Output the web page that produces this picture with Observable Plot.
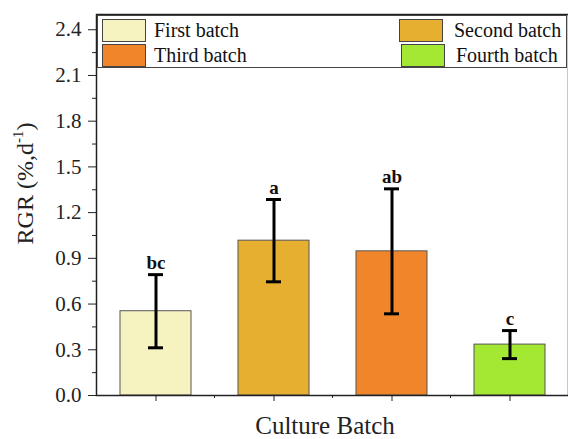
<!DOCTYPE html>
<html><head><meta charset="utf-8">
<script src="https://cdn.jsdelivr.net/npm/d3@7"></script>
<script src="https://cdn.jsdelivr.net/npm/@observablehq/plot@0.6"></script>
<style>
body{margin:0;background:#fff;}
#wrap{position:relative;width:568px;height:439px;font-family:"Liberation Serif","Times New Roman",serif;overflow:hidden;}
.legend{position:absolute;left:97px;top:15px;width:470px;height:53px;border:1px solid #444;box-sizing:border-box;background:#fff;}
.sw{position:absolute;width:44px;height:23px;border:1px solid #444;box-sizing:border-box;}
.lab{position:absolute;font-size:20px;line-height:23px;color:#111;white-space:nowrap;}
</style></head><body><div id="wrap"></div>
<script>
const batches = ["First batch", "Second batch", "Third batch", "Fourth batch"];
const means = [0.553, 1.016, 0.946, 0.334];
const errs = [0.24, 0.27, 0.41, 0.092];
const letters = ["bc", "a", "ab", "c"];
const colors = ["#F7F3C1", "#E6AF30", "#F0852A", "#A4E834"];
const yTicks = [0, 0.3, 0.6, 0.9, 1.2, 1.5, 1.8, 2.1, 2.4];
const yMinor = [0.15, 0.45, 0.75, 1.05, 1.35, 1.65, 1.95, 2.25];
const xTitle = "Culture Batch";
const serif = "'Liberation Serif', 'Times New Roman', serif";

const data = batches.map((b, i) => ({
  batch: b, mean: means[i], lo: means[i] - errs[i], hi: means[i] + errs[i], letter: letters[i]
}));

const chart = Plot.plot({
  width: 568, height: 439,
  marginLeft: 96, marginRight: 0, marginTop: 14, marginBottom: 44,
  style: {fontSize: "20px", color: "#222", background: "#fff"},
  x: {domain: batches, paddingInner: 0.4, paddingOuter: 0.2},
  y: {domain: [0, 2.5]},
  color: {domain: batches, range: colors},
  marks: [
    Plot.barY(data, {x: "batch", y: "mean", fill: "batch", stroke: "#555", strokeWidth: 1}),
    Plot.ruleX(data, {x: "batch", y1: "lo", y2: "hi", stroke: "#000", strokeWidth: 3}),
    Plot.tickY(data, {x: "batch", y: "lo", stroke: "#000", strokeWidth: 3, insetLeft: 28, insetRight: 28}),
    Plot.tickY(data, {x: "batch", y: "hi", stroke: "#000", strokeWidth: 3, insetLeft: 28, insetRight: 28}),
    Plot.text(data, {x: "batch", y: "hi", text: "letter", lineAnchor: "bottom", dy: -6, fontWeight: "bold", fontSize: 19, fill: "#111", fontFamily: serif}),
    Plot.axisY({ticks: yTicks, tickFormat: d3.format(".1f"), tickSize: 8, tickPadding: 7, label: null, fontSize: 21, stroke: "#222", fill: "#222", fontFamily: serif, fontVariant: "normal"}),
    Plot.axisY({ticks: yMinor, tickSize: 4, tickFormat: () => "", label: null, stroke: "#222"}),
    Plot.axisX({tickSize: 6, tickFormat: () => "", label: null, stroke: "#222"}),
    Plot.frame({stroke: "#222", strokeWidth: 1.5})
  ]
});

const wrap = document.getElementById("wrap");
wrap.appendChild(chart);

const svg = d3.select(chart);
svg.style("font-family", serif);
const xs = chart.scale("x");
const ys = chart.scale("y");
const y0 = ys.apply(0);
// minor x ticks between bands
for (let i = 1; i < batches.length; i++) {
  const xm = xs.apply(batches[i]) - (xs.step - xs.bandwidth) / 2;
  svg.append("line").attr("x1", xm).attr("x2", xm).attr("y1", y0).attr("y2", y0 + 3)
    .attr("stroke", "#222").attr("stroke-width", 1);
}
// x title
svg.append("text").attr("x", 325).attr("y", 434).attr("text-anchor", "middle")
  .attr("font-size", 25).attr("fill", "#222").text(xTitle);
// y title with superscript
const yMid = (ys.apply(0) + ys.apply(2.5)) / 2 - 21;
const yt = svg.append("text").attr("transform", `translate(33,${yMid}) rotate(-90)`)
  .attr("text-anchor", "middle").attr("font-size", 24).attr("fill", "#222");
yt.append("tspan").text("RGR (%,d");
yt.append("tspan").attr("font-size", 15).attr("dy", -10).text("-1");
yt.append("tspan").attr("dy", 10).text(")");
svg.selectAll("text").style("font-family", serif, "important");

// legend
const leg = document.createElement("div");
leg.className = "legend";
const pos = [
  {sx: 4, sy: 3, lx: 56},
  {sx: 301, sy: 3, lx: 356},
  {sx: 4, sy: 28, lx: 56},
  {sx: 303, sy: 28, lx: 358}
];
batches.forEach((b, i) => {
  const s = document.createElement("div");
  s.className = "sw";
  s.style.left = pos[i].sx + "px"; s.style.top = pos[i].sy + "px";
  s.style.background = colors[i];
  const l = document.createElement("div");
  l.className = "lab";
  l.style.left = pos[i].lx + "px"; l.style.top = pos[i].sy + "px";
  l.textContent = b;
  leg.appendChild(s); leg.appendChild(l);
});
wrap.appendChild(leg);
</script></body></html>
